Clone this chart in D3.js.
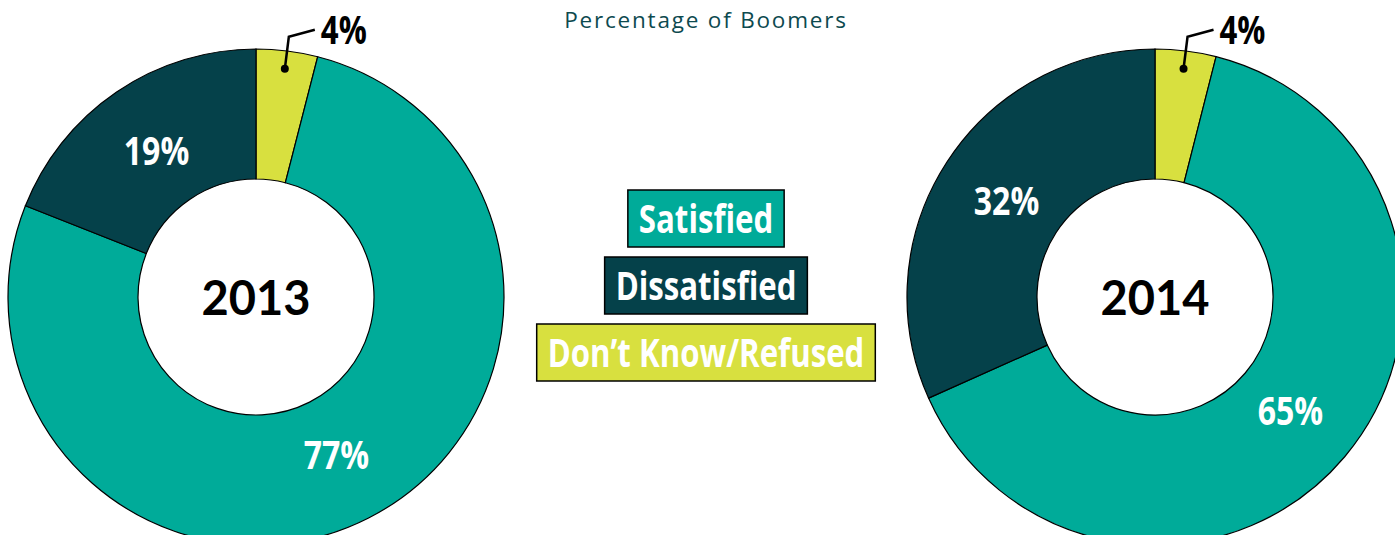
<!DOCTYPE html>
<html>
<head>
<meta charset="utf-8">
<script src="https://cdn.jsdelivr.net/npm/d3@7"></script>
<style>
  body { margin: 0; background: #fff; }
  svg { display: block; }
</style>
</head>
<body>
<svg id="chart" width="1395" height="535"></svg>
<script>
// data
const categories = ["Don\u2019t Know/Refused", "Satisfied", "Dissatisfied"];
const years = ["2013", "2014"];
const values2013 = [4, 77, 19];
const values2014 = [4, 65, 32];
const legendOrder = ["Satisfied", "Dissatisfied", "Don\u2019t Know/Refused"];
const title = "Percentage of Boomers";

const colors = d3.scaleOrdinal()
  .domain(categories)
  .range(["#d8e03f", "#00ab99", "#05414a"]);

const outerR = 248, innerR = 118;
// no condensed face installed, so squeeze a bold face sideways
const labelFont = "'Open Sans', 'Liberation Sans', sans-serif";
const squeeze = 0.8;

const svg = d3.select('#chart');

const xCenter = d3.scalePoint().domain(years).range([256, 1155]);
const cy = 297;

const pie = d3.pie().sort(null).value(d => d.value);
const arc = d3.arc().innerRadius(innerR).outerRadius(outerR);
const labelArc = d3.arc().innerRadius(177).outerRadius(177);
const dotArc = d3.arc().innerRadius(230).outerRadius(230);

function condensed(parent, x, y, size, anchor) {
  return parent.append('g')
    .attr('transform', `translate(${x},${y}) scale(${squeeze},1)`)
    .append('text')
    .attr('text-anchor', anchor)
    .style('font-family', labelFont)
    .style('font-weight', 700)
    .style('font-size', size + 'px');
}

// title
svg.append('text')
  .attr('x', 706)
  .attr('y', 28)
  .attr('text-anchor', 'middle')
  .attr('fill', '#0d4a4f')
  .style('font-family', "'Open Sans', 'Noto Sans', sans-serif")
  .style('font-size', '22.5px')
  .style('letter-spacing', '1.8px')
  .text(title);

function drawDonut(year, values) {
  let data = categories.map((c, i) => ({ cat: c, value: values[i] }));
  let g = svg.append('g')
    .attr('transform', `translate(${xCenter(year)},${cy})`);
  let arcs = pie(data);

  g.selectAll('path.slice')
    .data(arcs)
    .enter().append('path')
    .attr('class', 'slice')
    .attr('d', arc)
    .attr('fill', d => colors(d.data.cat))
    .attr('stroke', '#000')
    .attr('stroke-width', 1.2);

  // year in the hole
  g.append('text')
    .attr('text-anchor', 'middle')
    .attr('y', 18)
    .style('font-family', "Lato, sans-serif")
    .style('font-weight', 700)
    .style('font-size', '47px')
    .attr('fill', '#000')
    .text(year);

  // labels inside the big slices
  arcs.filter(d => d.index > 0).forEach(d => {
    let c = labelArc.centroid(d);
    condensed(g, c[0], c[1], 40, 'middle')
      .attr('dy', '0.36em')
      .attr('fill', '#fff')
      .text(d.data.value + '%');
  });

  // call-out for the small slice
  let small = arcs[0];
  let p = dotArc.centroid(small);
  g.append('circle')
    .attr('cx', p[0]).attr('cy', p[1]).attr('r', 4)
    .attr('fill', '#000');
  let pts = [p, [p[0] + 4, p[1] - 32], [p[0] + 30, p[1] - 39]];
  g.append('path')
    .attr('d', d3.line()(pts))
    .attr('fill', 'none')
    .attr('stroke', '#000')
    .attr('stroke-width', 2.5);
  condensed(g, p[0] + 36, p[1] - 25, 39, 'start')
    .attr('fill', '#000')
    .text(small.data.value + '%');
}

drawDonut(years[0], values2013);
drawDonut(years[1], values2014);

// legend, stacked boxes in the middle
let legend = svg.append('g').attr('transform', 'translate(706,190)');
let boxH = 57, gap = 10, padX = 11;
legendOrder.forEach((c, i) => {
  let item = legend.append('g').attr('transform', `translate(0,${i * (boxH + gap)})`);
  let rect = item.append('rect');
  let t = condensed(item, 0, 43, 39, 'middle')
    .attr('fill', '#fff')
    .text(c);
  let w = t.node().getComputedTextLength() * squeeze + padX * 2;
  rect.attr('x', -w / 2)
    .attr('y', 0)
    .attr('width', w)
    .attr('height', boxH)
    .attr('fill', colors(c))
    .attr('stroke', '#000')
    .attr('stroke-width', 1.5);
});
</script>
</body>
</html>
